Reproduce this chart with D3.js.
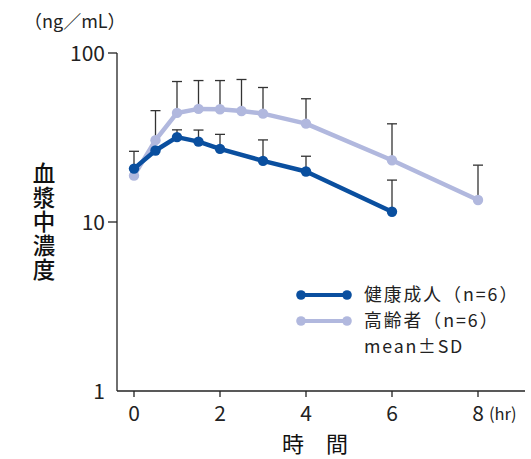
<!DOCTYPE html>
<html>
<head>
<meta charset="utf-8">
<script src="https://cdn.jsdelivr.net/npm/d3@7"></script>
<style>
  html, body { margin: 0; padding: 0; background: #fff; }
  svg { display: block; font-family: "Noto Sans CJK JP", "Noto Sans", sans-serif; }
</style>
</head>
<body>
<svg id="chart" width="531" height="459"></svg>
<script>
// Plasma concentration over time (mean ± SD)
const healthyTime = [0, 0.5, 1, 1.5, 2, 3, 4, 6];
const healthyMean = [20.7, 26.5, 31.8, 29.9, 27.1, 23.0, 19.9, 11.5];
const healthySD   = [5.5, null, 3.3, 5.1, 5.9, 7.6, 4.6, 6.2];

const elderlyTime = [0, 0.5, 1, 1.5, 2, 2.5, 3, 4, 6, 8];
const elderlyMean = [18.8, 30.5, 44.2, 46.7, 46.5, 45.4, 43.8, 38.2, 23.2, 13.5];
const elderlySD   = [null, 15.1, 23.6, 22.0, 22.2, 24.3, 18.7, 15.4, 14.9, 8.2];

const xTicks = [0, 2, 4, 6, 8];
const yTicks = [1, 10, 100];
const seriesNames = ["健康成人（n=6）", "高齢者（n=6）"];
const legendNote = "mean±SD";
const unitLabel = "（ng／mL）";
const xTitle = "時　間";
const yTitle = "血漿中濃度";

const colors = ["#0a4f9f", "#b1b8de"];

const svg = d3.select("#chart");
const x = d3.scaleLinear().domain([0, 8]).range([134, 478]);
const y = d3.scaleLog().domain([1, 100]).range([391, 53]);
const axisX = 117;
const axisY = 391;

// axes
svg.append("line").attr("x1", axisX).attr("x2", axisX).attr("y1", y(100)).attr("y2", axisY)
  .attr("stroke", "#222").attr("stroke-width", 1.3);
svg.append("line").attr("x1", axisX).attr("x2", 525).attr("y1", axisY).attr("y2", axisY)
  .attr("stroke", "#222").attr("stroke-width", 1.3);

yTicks.forEach(t => {
  if (t !== 1) {
    svg.append("line").attr("x1", axisX - 9).attr("x2", axisX).attr("y1", y(t)).attr("y2", y(t))
      .attr("stroke", "#222").attr("stroke-width", 1.3);
  }
  svg.append("text").attr("x", 105).attr("y", y(t)).attr("dy", "0.36em")
    .attr("text-anchor", "end").attr("font-size", 21).attr("fill", "#222").text(t);
});

xTicks.forEach(t => {
  svg.append("line").attr("x1", x(t)).attr("x2", x(t)).attr("y1", axisY).attr("y2", axisY + 6)
    .attr("stroke", "#222").attr("stroke-width", 1.3);
  svg.append("text").attr("x", x(t)).attr("y", 421)
    .attr("text-anchor", "middle").attr("font-size", 21).attr("fill", "#222").text(t);
});
svg.append("text").attr("x", 489).attr("y", 420).attr("font-size", 16.5).attr("fill", "#222").text("(hr)");

svg.append("text").attr("x", 24).attr("y", 28).attr("font-size", 18).attr("fill", "#222").text(unitLabel);

svg.append("text").attr("x", 315).attr("y", 452).attr("text-anchor", "middle")
  .attr("font-size", 22).attr("fill", "#111").text(xTitle);

// vertical title, one character per line
svg.append("text").attr("x", 44).attr("y", 162)
  .style("writing-mode", "vertical-rl").style("letter-spacing", "1.5px")
  .attr("font-size", 22.5).attr("font-weight", 500).attr("fill", "#111").text(yTitle);

// series data
const series = [
  { time: healthyTime, mean: healthyMean, sd: healthySD, color: colors[0] },
  { time: elderlyTime, mean: elderlyMean, sd: elderlySD, color: colors[1] }
].map(s => ({ ...s, pts: s.time.map((t, i) => ({ t, m: s.mean[i], sd: s.sd[i] })) }));

// error bars (upper side only)
const eb = svg.append("g").attr("stroke", "#333").attr("stroke-width", 1.3);
series.forEach(s => {
  s.pts.filter(p => p.sd != null).forEach(p => {
    const top = y(p.m + p.sd);
    eb.append("line").attr("x1", x(p.t)).attr("x2", x(p.t)).attr("y1", top).attr("y2", y(p.m));
    eb.append("line").attr("x1", x(p.t) - 5).attr("x2", x(p.t) + 5).attr("y1", top).attr("y2", top);
  });
});

const line = d3.line().x(p => x(p.t)).y(p => y(p.m));
[series[1], series[0]].forEach(s => {
  svg.append("path").datum(s.pts).attr("d", line).attr("fill", "none")
    .attr("stroke", s.color).attr("stroke-width", 4.5).attr("stroke-linejoin", "round");
  svg.append("g").selectAll("circle").data(s.pts).join("circle")
    .attr("cx", p => x(p.t)).attr("cy", p => y(p.m)).attr("r", 5.2).attr("fill", s.color);
});

// legend: swatches plus three text rows
const lg = svg.append("g");
const rowStep = 26;
const rowTop = 295;
seriesNames.forEach((name, i) => {
  const ly = rowTop + i * rowStep;
  lg.append("line").attr("x1", 301).attr("x2", 347).attr("y1", ly).attr("y2", ly)
    .attr("stroke", colors[i]).attr("stroke-width", 4);
  [301, 347].forEach(cx => lg.append("circle").attr("cx", cx).attr("cy", ly).attr("r", 4.8).attr("fill", colors[i]));
});
[...seriesNames, legendNote].forEach((s, i) => {
  lg.append("text").attr("x", 364).attr("y", rowTop + i * rowStep).attr("dy", "0.36em")
    .attr("font-size", 17.8).attr("fill", "#222")
    .style("letter-spacing", i === 2 ? "1.8px" : "2px").text(s);
});
</script>
</body>
</html>
